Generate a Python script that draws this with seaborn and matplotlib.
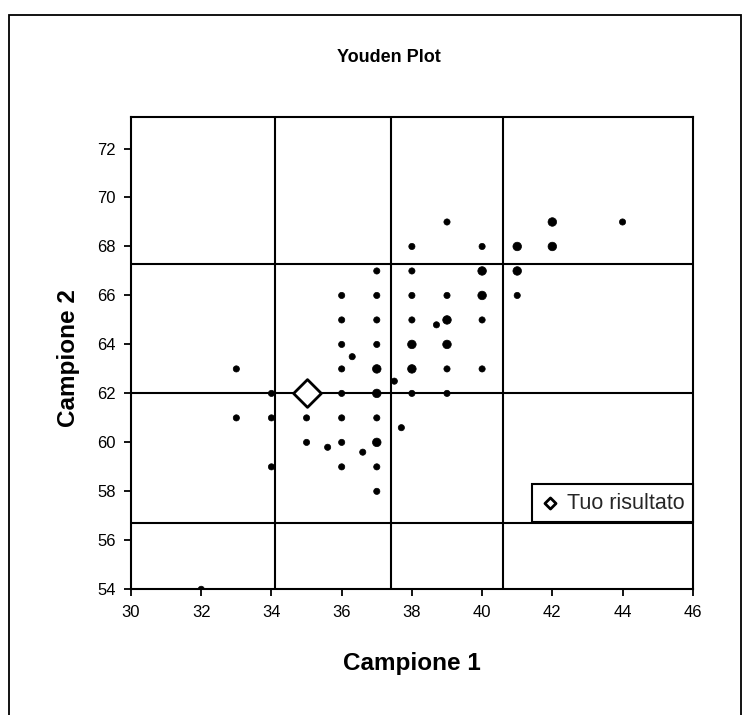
import matplotlib
matplotlib.use("Agg")
import matplotlib.pyplot as plt
import seaborn as sns
import pandas as pd
from matplotlib.patches import Rectangle

# Laboratory results: sample 1 vs sample 2, with number of labs at each point
campione_1 = [32, 33, 33, 34, 34, 34, 35, 35,
              36, 36, 36, 36, 36, 36, 36, 36,
              37, 37, 37, 37, 37, 37, 37, 37, 37, 37,
              38, 38, 38, 38, 38, 38, 38,
              39, 39, 39, 39, 39, 39,
              40, 40, 40, 40, 40,
              41, 41, 41,
              42, 42,
              44,
              35.6, 36.3, 36.6, 37.5, 37.7, 38.7]
campione_2 = [54, 63, 61, 62, 61, 59, 61, 60,
              66, 65, 64, 63, 62, 61, 60, 59,
              67, 66, 65, 64, 63, 62, 61, 60, 59, 58,
              68, 67, 66, 65, 64, 63, 62,
              69, 66, 65, 64, 63, 62,
              68, 67, 66, 65, 63,
              68, 67, 66,
              69, 68,
              69,
              59.8, 63.5, 59.6, 62.5, 60.6, 64.8]
n_lab = [1, 1, 1, 1, 1, 1, 1, 1,
         1, 1, 1, 1, 1, 1, 1, 1,
         1, 1, 1, 1, 2, 2, 1, 2, 1, 1,
         1, 1, 1, 1, 2, 2, 1,
         1, 1, 2, 2, 1, 1,
         1, 2, 2, 1, 1,
         2, 2, 1,
         2, 2,
         1,
         1, 1, 1, 1, 1, 1]

# Participant's own result
tuo_x = [35]
tuo_y = [62]

# Consensus reference lines
linee_x = [34.1, 37.4, 40.6]
linee_y = [56.7, 62.0, 67.3]

x_ticks = list(range(30, 47, 2))
y_ticks = list(range(54, 73, 2))

sns.set_theme(style="white")
plt.rcParams["font.family"] = ["Liberation Sans", "DejaVu Sans"]

fig = plt.figure(figsize=(7.53, 7.15), dpi=100)
ax = fig.add_axes([0.174, 0.1758, 0.746, 0.661])

# Outer frame around the whole chart
fig.patches.append(Rectangle((9 / 753, -0.05), 732 / 753, 1.05 - 15 / 715,
                             transform=fig.transFigure, fill=False,
                             edgecolor="black", linewidth=1.3))

for xv in linee_x:
    ax.axvline(xv, color="black", linewidth=1.5, zorder=1)
for yv in linee_y:
    ax.axhline(yv, color="black", linewidth=1.5, zorder=1)

df = pd.DataFrame({"Campione 1": campione_1, "Campione 2": campione_2, "n": n_lab})
sns.scatterplot(data=df, x="Campione 1", y="Campione 2", size="n",
                sizes={1: 20, 2: 38}, marker="o", color="black",
                edgecolor="black", linewidth=0.5, legend=False, ax=ax, zorder=3)

tuo = pd.DataFrame({"x": tuo_x, "y": tuo_y})
sns.scatterplot(data=tuo, x="x", y="y", marker="D", s=200, facecolor="white",
                edgecolor="black", linewidth=2, ax=ax, zorder=4,
                label="Tuo risultato")

ax.set_xlim(30, 46)
ax.set_ylim(54, 73.3)
ax.set_xticks(x_ticks)
ax.set_yticks(y_ticks)
ax.tick_params(axis="both", direction="out", length=5, width=1.3,
               color="black", labelsize=12, pad=6, bottom=True, left=True)
for lbl in ax.get_xticklabels() + ax.get_yticklabels():
    lbl.set_color("black")

for s in ax.spines.values():
    s.set_color("black")
    s.set_linewidth(1.5)

ax.set_xlabel("Campione 1", fontsize=17.5, fontweight="bold", color="black")
ax.set_ylabel("Campione 2", fontsize=17.5, fontweight="bold", color="black")
ax.xaxis.set_label_coords(0.5, -0.156)
ax.xaxis.label.set_va("center")
ax.yaxis.set_label_coords(-0.112, 0.49)
ax.yaxis.label.set_va("center")

fig.text(389 / 753, 1 - 57 / 715, "Youden Plot", ha="center", va="center",
         fontsize=13, fontweight="bold", color="black")

leg = ax.legend(loc="lower right", bbox_to_anchor=(1.0, 0.1418),
                borderaxespad=0, frameon=True, fancybox=False,
                fontsize=15.5, handletextpad=0.3, handlelength=0.9,
                borderpad=0.4, markerscale=0.4)
leg.get_frame().set_edgecolor("black")
leg.get_frame().set_linewidth(1.5)
leg.get_frame().set_alpha(1)
for h in leg.legend_handles:
    h.set_linewidth(2)

fig.savefig("out.png", dpi=100)
